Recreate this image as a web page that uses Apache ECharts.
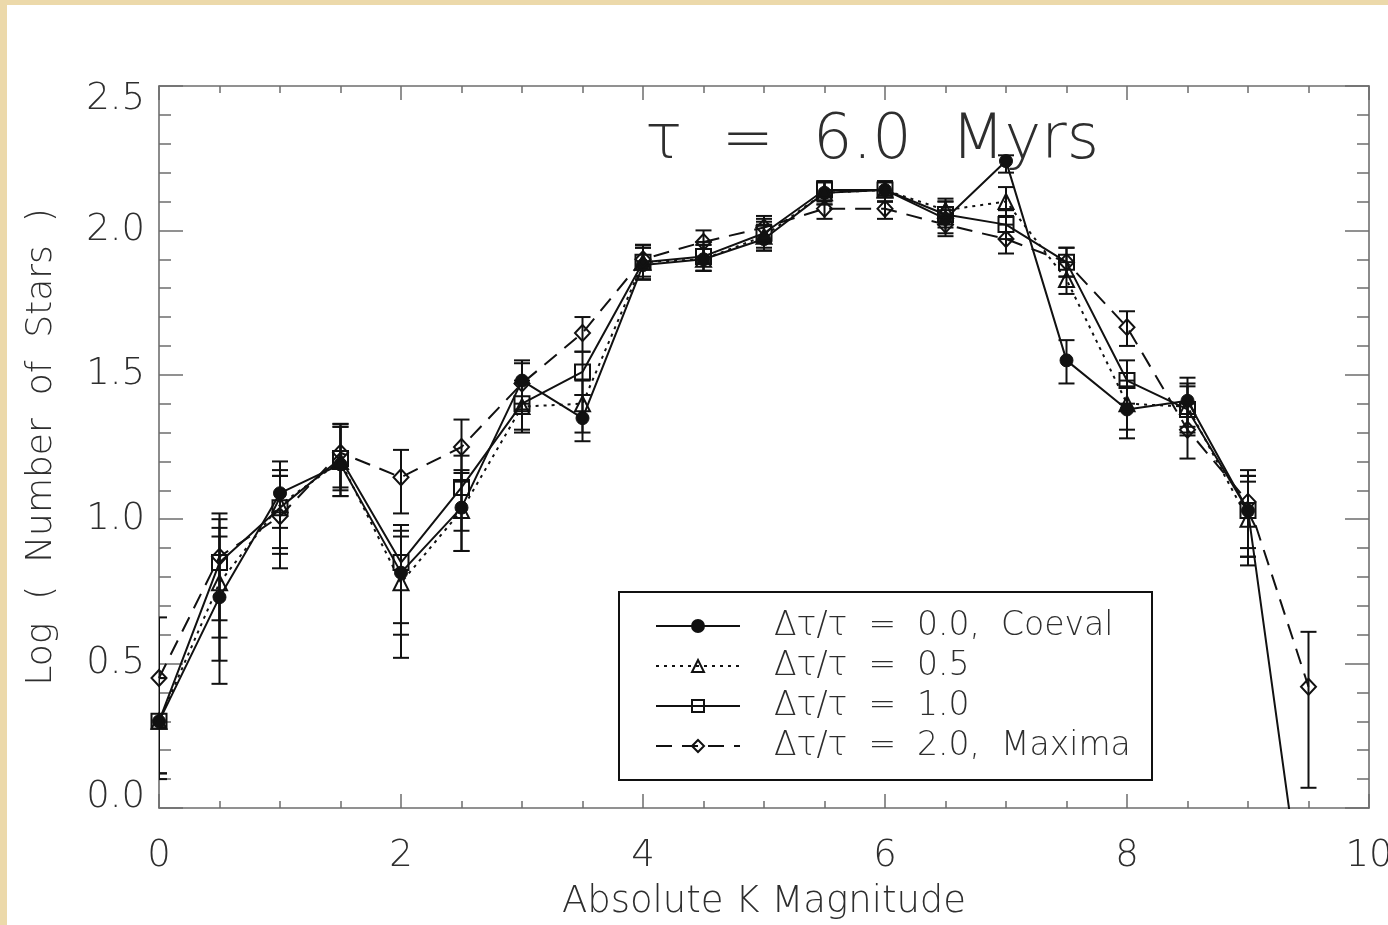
<!DOCTYPE html>
<html>
<head>
<meta charset="utf-8">
<script src="https://cdn.jsdelivr.net/npm/echarts@6/dist/echarts.min.js"></script>
<style>
  html, body { margin: 0; padding: 0; width: 1388px; height: 925px; overflow: hidden;
    background: #ecd9aa; }
  #paper { position: absolute; left: 7px; top: 5px; right: 0; bottom: 0; background: #fff; }
  #main { position: absolute; left: 0; top: 0; width: 1388px; height: 925px; }
</style>
</head>
<body>
<div id="paper"></div>
<div id="main"></div>
<script>
// ---- data ----
var mags = [0, 0.5, 1, 1.5, 2, 2.5, 3, 3.5, 4, 4.5, 5, 5.5, 6, 6.5, 7, 7.5, 8, 8.5, 9, 9.5];

var coeval    = [0.30, 0.73, 1.09, 1.19, 0.815, 1.04, 1.48, 1.35, 1.88, 1.90, 1.97, 2.13, 2.14, 2.04, 2.24, 1.55, 1.38, 1.41, 1.03, -0.49];
var coevalLo  = [0.12, 0.43, 0.97, 1.08, 0.60, 0.89, 1.40, 1.27, 1.83, 1.86, 1.93, 2.09, 2.10, 1.99, 2.20, 1.47, 1.28, 1.32, 0.87, null];
var coevalHi  = [0.45, 0.94, 1.20, 1.32, 0.96, 1.17, 1.55, 1.43, 1.94, 1.95, 2.02, 2.17, 2.17, 2.10, 2.26, 1.62, 1.46, 1.49, 1.15, null];

var half      = [0.30, 0.78, 1.05, 1.20, 0.78, 1.03, 1.39, 1.40, 1.89, 1.90, 1.98, 2.13, 2.14, 2.07, 2.10, 1.83, 1.40, 1.39, 1.00, null];
var halfLo    = [0.10, 0.51, 0.90, 1.08, 0.52, 0.89, 1.30, 1.30, 1.83, 1.86, 1.93, 2.09, 2.10, 2.02, 2.05, 1.78, 1.31, 1.30, 0.84, null];
var halfHi    = [0.45, 0.97, 1.17, 1.32, 0.94, 1.16, 1.47, 1.48, 1.94, 1.95, 2.03, 2.17, 2.17, 2.11, 2.15, 1.89, 1.48, 1.47, 1.13, null];

var one       = [0.30, 0.85, 1.04, 1.21, 0.85, 1.11, 1.40, 1.51, 1.89, 1.91, 1.99, 2.14, 2.14, 2.055, 2.02, 1.89, 1.48, 1.38, 1.03, null];
var oneLo     = [0.12, 0.59, 0.88, 1.10, 0.64, 0.96, 1.31, 1.43, 1.83, 1.86, 1.94, 2.10, 2.10, 2.01, 1.97, 1.84, 1.40, 1.29, 0.87, null];
var oneHi     = [0.45, 1.00, 1.15, 1.33, 0.98, 1.22, 1.48, 1.58, 1.95, 1.96, 2.04, 2.17, 2.17, 2.10, 2.07, 1.94, 1.55, 1.46, 1.15, null];

var maxima    = [0.45, 0.87, 1.01, 1.23, 1.145, 1.25, 1.47, 1.645, 1.90, 1.96, 2.01, 2.075, 2.075, 2.02, 1.97, 1.89, 1.665, 1.31, 1.06, 0.42];
var maximaLo  = [0.28, 0.65, 0.83, 1.11, 1.02, 1.13, 1.38, 1.58, 1.84, 1.91, 1.96, 2.04, 2.04, 1.98, 1.92, 1.84, 1.60, 1.21, 0.90, 0.07];
var maximaHi  = [0.66, 1.02, 1.15, 1.33, 1.24, 1.345, 1.54, 1.70, 1.95, 2.00, 2.05, 2.12, 2.12, 2.07, 2.02, 1.94, 1.72, 1.40, 1.17, 0.61];

var xTicks = [0, 2, 4, 6, 8, 10];
var yTicks = [0.0, 0.5, 1.0, 1.5, 2.0, 2.5];

var seriesNames = [
  'Δτ/τ  =  0.0,  Coeval',
  'Δτ/τ  =  0.5',
  'Δτ/τ  =  1.0',
  'Δτ/τ  =  2.0,  Maxima'
];
var titleText = 'τ  =  6.0  Myrs';
var xName = 'Absolute K Magnitude';
var yName = 'Log  (  Number  of  Stars  )';

// ---- build ----
var FONT = 'DejaVu Sans';
var TXT = '#2e2e2e';
var AX = '#6e6e6e';

function pairs(vals) {
  var out = [];
  for (var i = 0; i < mags.length; i++) {
    if (vals[i] !== null && vals[i] !== undefined) out.push([mags[i], vals[i]]);
  }
  return out;
}
function errData(lo, hi) {
  var out = [];
  for (var i = 0; i < mags.length; i++) {
    if (lo[i] !== null && hi[i] !== null) out.push([mags[i], lo[i], hi[i]]);
  }
  return out;
}
function errSeries(lo, hi) {
  return {
    type: 'custom',
    silent: true,
    clip: true,
    z: 1,
    xAxisIndex: 0, yAxisIndex: 0,
    data: errData(lo, hi),
    encode: { x: 0, y: [1, 2] },
    renderItem: function (params, api) {
      var x = api.value(0);
      var pLo = api.coord([x, api.value(1)]);
      var pHi = api.coord([x, api.value(2)]);
      var cap = 8;
      var st = { stroke: '#111', lineWidth: 2 };
      return {
        type: 'group',
        children: [
          { type: 'line', shape: { x1: pLo[0], y1: pLo[1], x2: pHi[0], y2: pHi[1] }, style: st },
          { type: 'line', shape: { x1: pLo[0] - cap, y1: pLo[1], x2: pLo[0] + cap, y2: pLo[1] }, style: st },
          { type: 'line', shape: { x1: pHi[0] - cap, y1: pHi[1], x2: pHi[0] + cap, y2: pHi[1] }, style: st }
        ]
      };
    }
  };
}
function lineSeries(name, vals, symbol, size, filled, ltype) {
  return {
    name: name,
    type: 'line',
    xAxisIndex: 0, yAxisIndex: 0,
    data: pairs(vals),
    clip: true,
    z: 3,
    symbol: symbol,
    symbolSize: size,
    showAllSymbol: true,
    lineStyle: { color: '#111', width: 2, type: ltype },
    itemStyle: filled
      ? { color: '#111', borderColor: '#111', borderWidth: 1 }
      : { color: 'rgba(255,255,255,0)', borderColor: '#111', borderWidth: 2 },
    emphasis: { disabled: true },
    animation: false
  };
}

// one axis definition per side and per tick level (major / minor)
function xAx(position, interval, tickLen, showLine, extra) {
  return Object.assign({
    type: 'value', min: 0, max: 10, interval: interval, position: position,
    axisLine: { show: showLine, onZero: false, lineStyle: { color: AX, width: 1.6 } },
    axisTick: { show: true, inside: true, length: tickLen, lineStyle: { color: AX, width: 1.5 } },
    minorTick: { show: false },
    axisLabel: { show: false },
    splitLine: { show: false }
  }, extra || {});
}
function yAx(position, interval, tickLen, showLine, extra) {
  return Object.assign({
    type: 'value', min: 0, max: 2.5, interval: interval, position: position,
    axisLine: { show: showLine, onZero: false, lineStyle: { color: AX, width: 1.6 } },
    axisTick: { show: true, inside: true, length: tickLen, lineStyle: { color: AX, width: 1.5 } },
    minorTick: { show: false },
    axisLabel: { show: false },
    splitLine: { show: false }
  }, extra || {});
}

var chart = echarts.init(document.getElementById('main'), null, { renderer: 'canvas' });

var option = {
  animation: false,
  backgroundColor: 'transparent',
  title: {
    text: titleText,
    left: 640, top: 106,
    textStyle: { fontFamily: FONT, fontSize: 62, fontWeight: 200, color: TXT }
  },
  grid: { left: 159, top: 86, right: 19, bottom: 117, containLabel: false, outerBoundsMode: 'none' },
  xAxis: [
    xAx('bottom', 2, 14, true, {
      name: xName, nameLocation: 'middle', nameGap: 76,
      nameTextStyle: { fontFamily: FONT, fontSize: 37, fontWeight: 200, color: TXT },
      axisLabel: {
        show: true, margin: 30, fontFamily: FONT, fontSize: 37, fontWeight: 200, color: TXT,
        formatter: function (v) { return xTicks.indexOf(v) >= 0 ? String(v) : ''; }
      }
    }),
    xAx('top', 2, 14, true),
    xAx('bottom', 0.5, 7, false),
    xAx('top', 0.5, 7, false)
  ],
  yAxis: [
    yAx('left', 0.5, 24, true, {
      name: yName, nameLocation: 'middle', nameGap: 99, nameRotate: 90,
      nameTextStyle: { fontFamily: FONT, fontSize: 36, fontWeight: 200, color: TXT },
      axisLabel: {
        show: true, margin: 14, fontFamily: FONT, fontSize: 37, fontWeight: 200, color: TXT,
        formatter: function (v) {
          for (var i = 0; i < yTicks.length; i++) {
            if (Math.abs(yTicks[i] - v) < 1e-9) {
              var s = yTicks[i].toFixed(1);
              if (i === 0) return '{lo|' + s + '}';
              if (i === yTicks.length - 1) return '{hi|' + s + '}';
              return s;
            }
          }
          return '';
        },
        rich: {
          lo: { fontFamily: FONT, fontSize: 37, fontWeight: 200, color: TXT, padding: [0, 0, 22, 0] },
          hi: { fontFamily: FONT, fontSize: 37, fontWeight: 200, color: TXT, padding: [26, 0, 0, 0] }
        }
      }
    }),
    yAx('right', 0.5, 24, true),
    yAx('left', 0.1, 12, false),
    yAx('right', 0.1, 12, false)
  ],
  legend: {
    orient: 'vertical',
    left: 650, top: 604,
    itemWidth: 84, itemHeight: 15, itemGap: 6,
    textStyle: { fontFamily: FONT, fontSize: 33, fontWeight: 200, color: TXT, lineHeight: 34, padding: [0, 0, 0, 29] },
    data: seriesNames,
    selectedMode: false
  },
  graphic: [
    {
      type: 'rect', z: 100, silent: true,
      shape: { x: 619, y: 592, width: 533, height: 188 },
      style: { fill: 'none', stroke: '#111', lineWidth: 2 }
    }
  ],
  series: [
    errSeries(coevalLo, coevalHi),
    errSeries(halfLo, halfHi),
    errSeries(oneLo, oneHi),
    errSeries(maximaLo, maximaHi),
    lineSeries(seriesNames[0], coeval, 'circle', 13, true, 'solid'),
    lineSeries(seriesNames[1], half, 'triangle', 15, false, [3, 5]),
    lineSeries(seriesNames[2], one, 'rect', 15, false, 'solid'),
    lineSeries(seriesNames[3], maxima, 'diamond', [15, 16], false, [16, 10])
  ]
};
chart.setOption(option);
</script>
</body>
</html>
